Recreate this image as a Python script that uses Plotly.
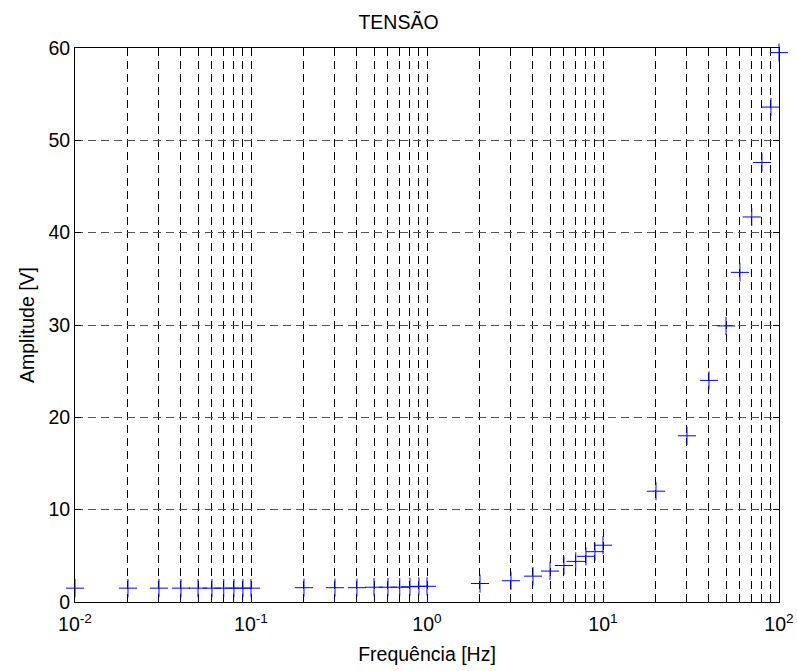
import plotly.graph_objects as go

freq = [0.01, 0.02, 0.03, 0.04, 0.05, 0.06, 0.07, 0.08, 0.09, 0.1,
        0.2, 0.3, 0.4, 0.5, 0.6, 0.7, 0.8, 0.9, 1.0,
        2, 3, 4, 5, 6, 7, 8, 9, 10,
        20, 30, 40, 50, 60, 70, 80, 90, 100]
amp = [1.5, 1.5, 1.5, 1.5, 1.5, 1.5, 1.5, 1.5, 1.5, 1.5,
       1.55, 1.55, 1.55, 1.6, 1.6, 1.6, 1.65, 1.7, 1.7,
       2.0, 2.3, 2.8, 3.35, 3.95, 4.4, 4.95, 5.45, 6.15,
       12.0, 18.0, 24.0, 29.9, 35.7, 41.7, 47.6, 53.6, 59.5]

major_vals = [0.01, 0.1, 1, 10, 100]
major_text = ["10<sup>-2</sup>", "10<sup>-1</sup>", "10<sup>0</sup>", "10<sup>1</sup>", "10<sup>2</sup>"]
minor_vals = [m * d for d in [0.01, 0.1, 1, 10] for m in range(2, 10)]
y_ticks = [0, 10, 20, 30, 40, 50, 60]

fig = go.Figure()
fig.add_trace(go.Scatter(
    x=freq, y=amp, mode="markers",
    marker=dict(symbol="cross-thin", size=13, color="#0000ff",
                line=dict(color="#0000ff", width=1)),
    cliponaxis=False, showlegend=False))

FAM = "Liberation Sans, Arial, sans-serif"
font = dict(family=FAM, size=19.5, color="black")
grid_dash = "8px,5px"

fig.update_layout(
    width=797, height=671,
    margin=dict(l=75, r=18, t=48, b=69, autoexpand=False),
    paper_bgcolor="white", plot_bgcolor="white",
    font=font,
    title=dict(text="TENSÃO", x=0.5, xanchor="center", y=0.967, yanchor="middle",
               font=dict(size=19.5, family=FAM, color="black")),
    xaxis=dict(
        type="log", range=[-2, 2], automargin=False,
        tickvals=major_vals, ticktext=major_text,
        ticks="inside", ticklen=6, tickcolor="black", ticklabelstandoff=5,
        showline=True, linecolor="black", linewidth=1, mirror="ticks",
        showgrid=True, gridcolor="black", gridwidth=1, griddash=grid_dash,
        minor=dict(tickvals=minor_vals, ticks="inside", ticklen=3, tickcolor="black",
                   showgrid=True, gridcolor="black", gridwidth=1, griddash=grid_dash),
        zeroline=False,
        title=dict(text="Frequência [Hz]", standoff=12, font=font),
        tickfont=font,
    ),
    yaxis=dict(
        range=[0, 60], tickvals=y_ticks, automargin=False,
        ticks="inside", ticklen=6, tickcolor="black",
        showline=True, linecolor="black", linewidth=1, mirror="ticks",
        showgrid=True, gridcolor="#555555", gridwidth=1, griddash=grid_dash,
        zeroline=False,
        title=dict(text="Amplitude [V]", standoff=8, font=font),
        tickfont=font,
    ),
)

fig.write_html("out.html")
